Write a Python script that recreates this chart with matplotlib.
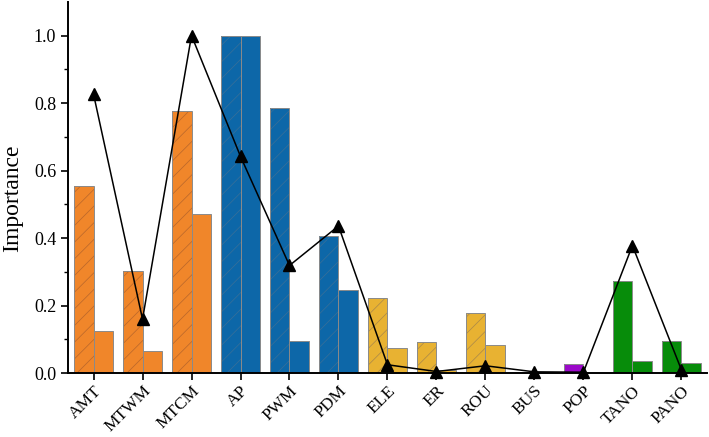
import numpy as np
import matplotlib.pyplot as plt

# factor names
factors = ['AMT', 'MTWM', 'MTCM', 'AP', 'PWM', 'PDM', 'ELE', 'ER', 'ROU',
           'BUS', 'POP', 'TANO', 'PANO']
# hatched bars (left) and solid bars (right)
imp_a = [0.555, 0.304, 0.775, 1.0, 0.785, 0.405, 0.222, 0.093, 0.178,
         0.004, 0.028, 0.272, 0.095]
imp_b = [0.125, 0.066, 0.472, 1.0, 0.095, 0.247, 0.074, 0.010, 0.083,
         0.003, 0.002, 0.035, 0.029]
# line series
imp_line = [0.826, 0.160, 1.0, 0.642, 0.319, 0.436, 0.025, 0.005, 0.022,
            0.004, 0.003, 0.378, 0.010]

group_colors = ['#F0862A'] * 3 + ['#0D67A8'] * 3 + ['#E8B232'] * 4 + \
    ['#9B09C9'] + ['#078C0A'] * 2
hatch_colors = ['#B8662A'] * 3 + ['#3A6F98'] * 3 + ['#A8874A'] * 4 + \
    ['#9B09C9'] + ['#078C0A'] * 2
hatches = ['//'] * 10 + [''] * 3

plt.rcParams['font.family'] = 'serif'
plt.rcParams['font.serif'] = ['Liberation Serif', 'Times New Roman', 'DejaVu Serif']
plt.rcParams['hatch.linewidth'] = 0.5

fig = plt.figure(figsize=(7.09, 4.37), dpi=100)
ax = fig.add_axes([0.096, 0.146, 0.901, 0.85])

x = np.arange(len(factors))
w = 0.4
for i in range(len(factors)):
    ax.bar(x[i] - w / 2, imp_a[i], w, color=group_colors[i],
           edgecolor=hatch_colors[i], hatch=hatches[i], linewidth=0)
    ax.bar(x[i] - w / 2, imp_a[i], w, color='none', edgecolor='#8A8A8A',
           linewidth=0.7)
    ax.bar(x[i] + w / 2, imp_b[i], w, color=group_colors[i],
           edgecolor='#8A8A8A', linewidth=0.7)

ax.plot(x, imp_line, color='black', linewidth=1.1, marker='^',
        markersize=8, zorder=5, clip_on=False)

ax.set_xlim(-0.52, 12.52)
ax.set_ylim(0, 1.1)
ax.set_yticks([0.0, 0.2, 0.4, 0.6, 0.8, 1.0])
ax.set_yticks(np.arange(0.1, 1.1, 0.2), minor=True)
ax.set_xticks(x)
ax.set_xticklabels(factors, rotation=45, ha='right', rotation_mode='anchor')
ax.tick_params(axis='both', labelsize=13, width=1.2, length=5)
ax.tick_params(axis='x', labelsize=12.5, pad=2)
ax.tick_params(axis='y', which='minor', width=1.0, length=3)
ax.set_ylabel('Importance', fontsize=17)
ax.yaxis.set_label_coords(-0.07, 0.47)

for s in ['top', 'right']:
    ax.spines[s].set_visible(False)
for s in ['left', 'bottom']:
    ax.spines[s].set_linewidth(1.4)

plt.savefig('out.png', dpi=100)
